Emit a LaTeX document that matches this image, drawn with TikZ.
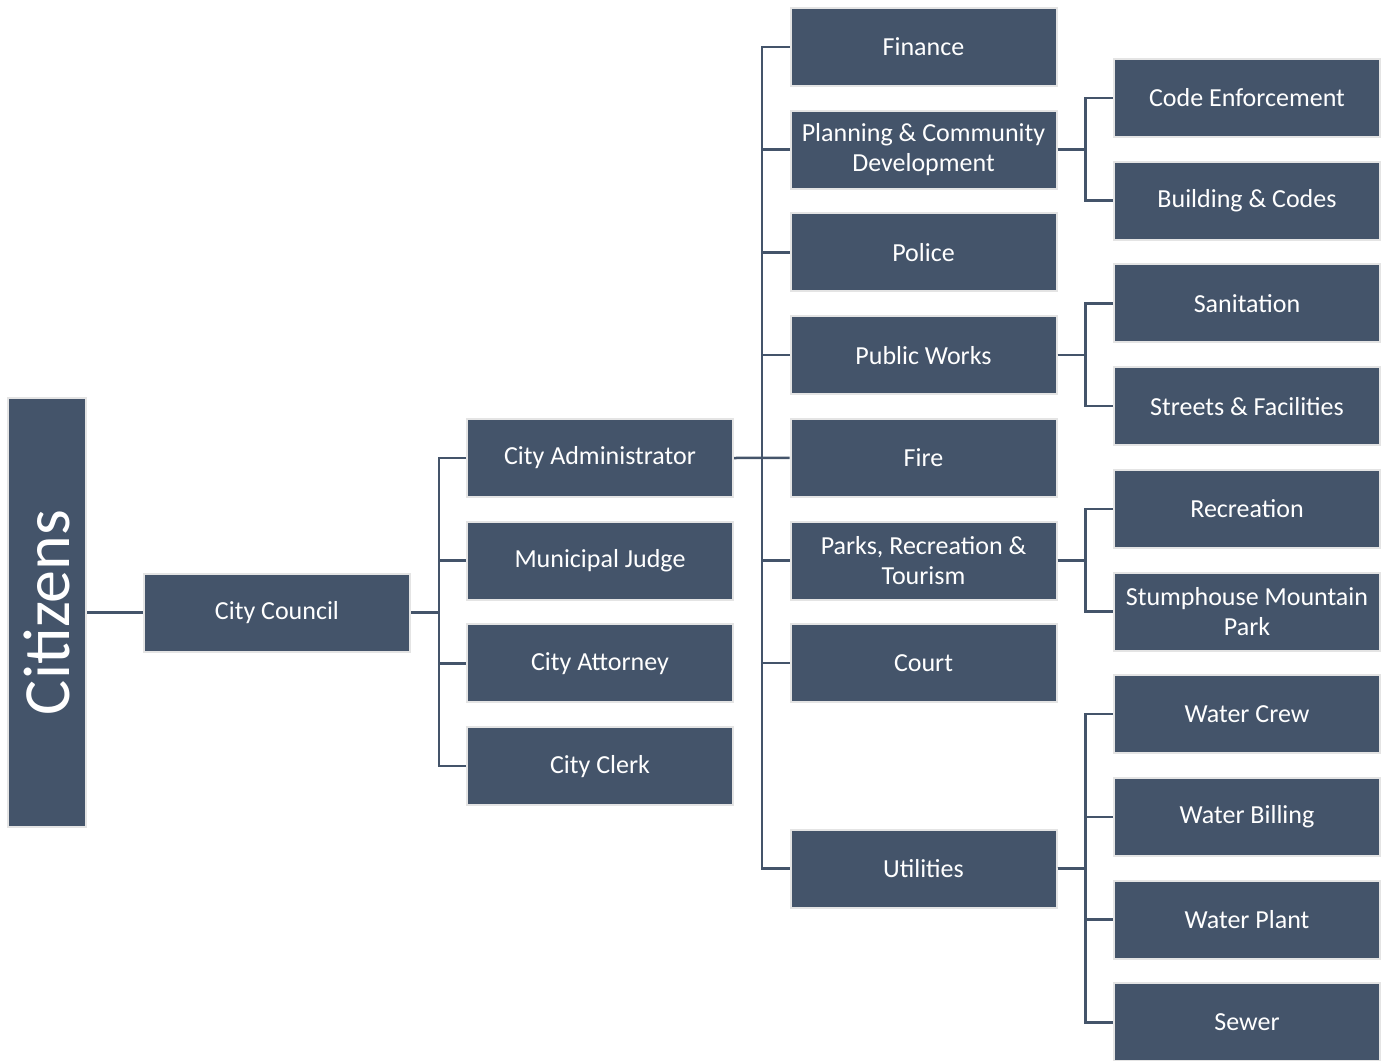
\documentclass[tikz,border=0pt]{standalone}
\usepackage{fontspec}
\setmainfont{Carlito}
\usetikzlibrary{positioning}
\definecolor{slate}{HTML}{44546A}
\definecolor{rim}{HTML}{E4E4E4}

\begin{document}
\begin{tikzpicture}[
    dept/.style={draw=rim, fill=slate, line width=1pt, text=white, align=center,
                 font=\fontsize{13}{15}\selectfont, inner sep=2pt,
                 minimum width=133pt, minimum height=39pt},
    link/.style={draw=slate, line width=1.25pt},
    node distance=11.35pt and 28pt]
  \useasboundingbox (0,0) rectangle (694pt,-530.5pt);
  % left side
  \node[dept, minimum width=39pt, minimum height=214.5pt,
        font=\fontsize{33}{33}\selectfont] (citizens) at (23.5pt,-306.25pt) {\rotatebox{90}{Citizens}};
  \node[dept, right=of citizens] (council) {City Council};
  \node[dept] (admin) at (300pt,-229pt) {City Administrator};
  \node[dept, below=of admin] (judge) {Municipal Judge};
  \node[dept, below=of judge] (attorney) {City Attorney};
  \node[dept, below=of attorney] (clerk) {City Clerk};
  % departments
  \node[dept] (finance) at (461.75pt,-23.5pt) {Finance};
  \node[dept, below=of finance] (planning) {Planning \& Community\\Development};
  \node[dept, below=of planning] (police) {Police};
  \node[dept, below=of police] (works) {Public Works};
  \node[dept, below=of works] (fire) {Fire};
  \node[dept, below=of fire] (parks) {Parks, Recreation \&\\Tourism};
  \node[dept, below=of parks] (court) {Court};
  \node[dept, below=62.7pt of court] (utilities) {Utilities};
  % divisions
  \node[dept] (codes) at (623.5pt,-49pt) {Code Enforcement};
  \node[dept, below=of codes] (building) {Building \& Codes};
  \node[dept, below=of building] (sanitation) {Sanitation};
  \node[dept, below=of sanitation] (streets) {Streets \& Facilities};
  \node[dept, below=of streets] (recreation) {Recreation};
  \node[dept, below=of recreation] (stumphouse) {Stumphouse Mountain\\Park};
  \node[dept, below=of stumphouse] (crew) {Water Crew};
  \node[dept, below=of crew] (billing) {Water Billing};
  \node[dept, below=of billing] (plant) {Water Plant};
  \node[dept, below=of plant] (sewer) {Sewer};
  % connectors
  \draw[link] (citizens) -- (council);
  \draw[link] (council.east) -- ++(14pt,0) |- (admin.west);
  \draw[link] (council.east) -- ++(14pt,0) |- (judge.west);
  \draw[link] (council.east) -- ++(14pt,0) |- (attorney.west);
  \draw[link] (council.east) -- ++(14pt,0) |- (clerk.west);
  \draw[link] (admin.east) -- ++(14pt,0) |- (finance.west);
  \draw[link] (admin.east) -- ++(14pt,0) |- (planning.west);
  \draw[link] (admin.east) -- ++(14pt,0) |- (police.west);
  \draw[link] (admin.east) -- ++(14pt,0) |- (works.west);
  \draw[link] (admin.east) -- (fire.west);
  \draw[link] (admin.east) -- ++(14pt,0) |- (parks.west);
  \draw[link] (admin.east) -- ++(14pt,0) |- (court.west);
  \draw[link] (admin.east) -- ++(14pt,0) |- (utilities.west);
  \draw[link] (planning.east) -- ++(14pt,0) |- (codes.west);
  \draw[link] (planning.east) -- ++(14pt,0) |- (building.west);
  \draw[link] (works.east) -- ++(14pt,0) |- (sanitation.west);
  \draw[link] (works.east) -- ++(14pt,0) |- (streets.west);
  \draw[link] (parks.east) -- ++(14pt,0) |- (recreation.west);
  \draw[link] (parks.east) -- ++(14pt,0) |- (stumphouse.west);
  \draw[link] (utilities.east) -- ++(14pt,0) |- (crew.west);
  \draw[link] (utilities.east) -- ++(14pt,0) |- (billing.west);
  \draw[link] (utilities.east) -- ++(14pt,0) |- (plant.west);
  \draw[link] (utilities.east) -- ++(14pt,0) |- (sewer.west);
\end{tikzpicture}
\end{document}
